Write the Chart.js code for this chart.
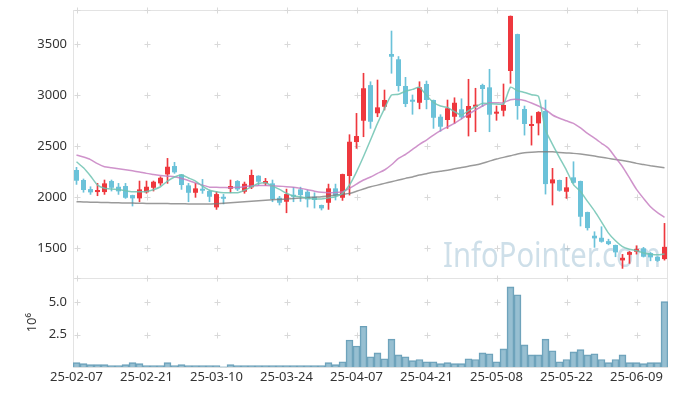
<!DOCTYPE html>
<html>
<head>
<meta charset="utf-8">
<script src="https://cdn.jsdelivr.net/npm/chart.js@4"></script>
<style>
  html, body { margin: 0; padding: 0; background: #fff; }
  canvas { display: block; }
</style>
</head>
<body>
<canvas id="stockChart" width="677" height="396"></canvas>
<script>
// trading days (yy-mm-dd)
const dates = [
  "25-02-07","25-02-10","25-02-11","25-02-12","25-02-13","25-02-14","25-02-17","25-02-18","25-02-19","25-02-20",
  "25-02-21","25-02-24","25-02-25","25-02-26","25-02-27","25-02-28","25-03-04","25-03-05","25-03-06","25-03-07",
  "25-03-10","25-03-11","25-03-12","25-03-13","25-03-14","25-03-17","25-03-18","25-03-19","25-03-20","25-03-21",
  "25-03-24","25-03-25","25-03-26","25-03-27","25-03-28","25-03-31","25-04-01","25-04-02","25-04-03","25-04-04",
  "25-04-07","25-04-08","25-04-09","25-04-10","25-04-11","25-04-14","25-04-15","25-04-16","25-04-17","25-04-18",
  "25-04-21","25-04-22","25-04-23","25-04-24","25-04-25","25-04-28","25-04-29","25-04-30","25-05-02","25-05-07",
  "25-05-08","25-05-09","25-05-12","25-05-13","25-05-14","25-05-15","25-05-16","25-05-19","25-05-20","25-05-21",
  "25-05-22","25-05-23","25-05-26","25-05-27","25-05-28","25-05-29","25-05-30","25-06-02","25-06-04","25-06-05",
  "25-06-09","25-06-10","25-06-11","25-06-12","25-06-13"
];

const opens = [
  2268,2170,2081,2052,2052,2160,2104,2111,2022,1990,
  2049,2094,2137,2225,2307,2225,2117,2045,2078,2062,
  1902,2006,2084,2160,2055,2098,2212,2137,2137,1996,
  1957,2016,2078,2055,2006,1925,1947,2088,1996,2209,
  2542,2751,3100,2824,2888,3405,3353,3091,2957,2927,
  3111,2954,2790,2758,2790,2863,2780,2888,3101,3078,
  2820,2849,3238,3600,2866,2699,2725,2846,2137,2170,
  2055,2196,2160,1856,1624,1604,1571,1533,1382,1437,
  1467,1500,1454,1418,1395
];
const highs = [
  2294,2180,2104,2137,2170,2170,2137,2137,2022,2160,
  2160,2160,2202,2382,2343,2225,2137,2137,2176,2072,
  2055,2029,2170,2165,2150,2268,2212,2186,2170,2010,
  2081,2098,2100,2070,2045,1925,2130,2130,2228,2614,
  2823,3216,3133,3150,3052,3630,3380,3176,3003,3133,
  3140,2954,2810,2954,2976,2966,3157,3069,3110,3255,
  2895,3111,3778,3600,2895,2797,2840,2954,2284,2170,
  2196,2349,2160,1856,1663,1712,1590,1533,1441,1470,
  1526,1510,1460,1418,1745
];
const lows = [
  2127,2050,2029,2016,2029,2062,2029,1990,1915,1957,
  2040,2062,2117,2137,2235,2078,1957,2000,2039,1957,
  1882,1935,2045,2065,2040,2085,2117,2117,1957,1925,
  1849,1957,1960,1905,1895,1876,1882,1974,1970,2022,
  2480,2594,2676,2790,2856,3216,3040,2888,2814,2867,
  2867,2676,2647,2676,2725,2770,2601,2643,2890,2643,
  2755,2797,3118,2765,2610,2512,2611,2032,1925,2060,
  1990,2137,1719,1679,1510,1560,1535,1418,1304,1353,
  1444,1415,1378,1372,1385
];
const closes = [
  2163,2072,2049,2072,2137,2094,2059,1996,1990,2078,
  2104,2153,2192,2300,2245,2121,2045,2088,2065,2006,
  2032,1986,2111,2078,2133,2219,2153,2160,1983,1947,
  2032,2006,2022,1980,1974,1892,2088,2016,2228,2545,
  2601,3069,2741,2882,2954,3378,3091,2915,2937,3078,
  2954,2780,2692,2873,2927,2784,2895,2908,3062,2810,
  2830,2905,3778,2895,2719,2716,2836,2130,2176,2065,
  2098,2143,1810,1699,1598,1565,1542,1461,1408,1464,
  1493,1418,1412,1378,1515
];

// moving averages as drawn
const ma5 = [
  2349,2290,2210,2120,2090,2082,2078,2065,2055,2055,
  2058,2075,2104,2160,2200,2219,2190,2160,2110,2070,
  2055,2045,2045,2045,2070,2104,2135,2143,2110,2078,
  2040,2013,2005,1990,1985,1983,1995,2006,2039,2121,
  2250,2400,2562,2725,2870,3003,3010,3040,3058,3078,
  2998,2930,2895,2882,2840,2807,2850,2888,2921,2918,
  2915,2915,3080,3045,3028,3006,2990,2660,2520,2390,
  2265,2125,2057,1961,1867,1760,1650,1574,1517,1491,
  1477,1455,1443,1437,1446
];
const ma20 = [
  2415,2395,2370,2330,2300,2290,2280,2270,2260,2248,
  2235,2225,2215,2208,2202,2185,2165,2140,2120,2100,
  2098,2096,2094,2098,2105,2114,2115,2115,2114,2110,
  2105,2098,2088,2075,2060,2049,2045,2048,2055,2088,
  2130,2170,2200,2235,2268,2320,2382,2420,2470,2520,
  2562,2610,2653,2690,2725,2770,2815,2856,2895,2927,
  2927,2927,2957,2960,2950,2925,2895,2860,2807,2775,
  2750,2725,2680,2627,2580,2530,2480,2390,2300,2190,
  2078,1990,1908,1850,1804
];
const ma60 = [
  1957,1955,1953,1951,1950,1948,1946,1945,1944,1942,
  1941,1940,1940,1939,1938,1937,1936,1935,1934,1934,
  1938,1942,1947,1952,1957,1962,1967,1972,1976,1980,
  1983,1988,1993,1998,2002,2006,2015,2022,2030,2039,
  2060,2082,2104,2120,2137,2153,2170,2186,2200,2219,
  2232,2245,2255,2265,2280,2292,2305,2317,2335,2355,
  2375,2392,2408,2425,2437,2443,2447,2447,2446,2440,
  2435,2431,2424,2415,2405,2393,2382,2372,2362,2350,
  2333,2322,2310,2300,2290
];

// volume in millions of shares
const volumes = [
  0.36,0.28,0.20,0.20,0.20,0.13,0.13,0.20,0.36,0.28,
  0.13,0.13,0.13,0.36,0.13,0.20,0.13,0.13,0.13,0.13,
  0.13,0.03,0.20,0.13,0.13,0.13,0.13,0.13,0.13,0.13,
  0.13,0.13,0.13,0.13,0.13,0.13,0.36,0.20,0.43,2.10,
  1.64,3.16,0.81,1.11,0.66,2.17,0.96,0.81,0.51,0.60,
  0.43,0.43,0.28,0.36,0.28,0.28,0.66,0.60,1.11,1.04,
  0.43,1.42,6.19,5.58,1.72,0.96,0.96,2.17,1.27,0.43,
  0.60,1.19,1.36,0.96,1.04,0.60,0.36,0.60,0.96,0.36,
  0.36,0.28,0.36,0.36,5.05
];

const priceTicks = [1500, 2000, 2500, 3000, 3500];
const volumeTicks = [2.5, 5.0];

const RED = "#ee383e";
const BLUE = "#6bc2d9";
const candleColor = c => closes[c.dataIndex] >= opens[c.dataIndex] ? RED : BLUE;

Chart.defaults.font.family = "'Noto Sans', sans-serif";
Chart.defaults.font.size = 13;
Chart.defaults.color = "#333";

// y axes: fixed width, no extra label padding above/below the plot
const fitYAxis = s => {
  s.width = 73;
  s.paddingTop = 0;
  s.paddingBottom = 0;
};

// frame, little grid crosses and the watermark
const chartDecor = {
  id: "chartDecor",
  beforeDatasetsDraw(chart) {
    const ctx = chart.ctx;
    const x = chart.scales.x;
    ctx.save();
    ctx.lineWidth = 1;
    ctx.strokeStyle = "#e3e3e3";
    ["y", "yVol"].forEach(id => {
      const s = chart.scales[id];
      ctx.strokeRect(Math.round(x.left) + 0.5, Math.round(s.top) + 0.5,
        Math.round(x.right - x.left) - 1, Math.round(s.bottom - s.top));
    });
    ctx.strokeStyle = "#d9d9d9";
    ["y", "yVol"].forEach(id => {
      const s = chart.scales[id];
      const ys = s.ticks.map(t => s.getPixelForValue(t.value));
      ys.push(s.top);
      ys.forEach(yv => {
        const py = Math.round(yv) + 0.5;
        dates.forEach((d, i) => {
          if (i % 10) return;
          const px = Math.round(x.getPixelForValue(i)) + 0.5;
          ctx.beginPath();
          ctx.moveTo(px - 3, py); ctx.lineTo(px + 3, py);
          ctx.moveTo(px, py - 3); ctx.lineTo(px, py + 3);
          ctx.stroke();
        });
      });
    });
    ctx.font = "34px 'Noto Sans'";
    ctx.fillStyle = "rgba(120,165,195,0.36)";
    ctx.textBaseline = "alphabetic";
    ctx.fillText("InfoPointer.com", 443, 267, 218);
    ctx.restore();
  }
};

new Chart(document.getElementById("stockChart"), {
  type: "bar",
  data: {
    labels: dates,
    datasets: [
      { type: "line", label: "MA5", data: ma5, yAxisID: "y", borderColor: "rgba(110,195,178,0.85)",
        borderWidth: 1.5, pointRadius: 0, tension: 0.2, order: 0 },
      { type: "line", label: "MA20", data: ma20, yAxisID: "y", borderColor: "rgba(195,120,190,0.8)",
        borderWidth: 1.5, pointRadius: 0, tension: 0.2, order: 0 },
      { type: "line", label: "MA60", data: ma60, yAxisID: "y", borderColor: "rgba(120,120,120,0.75)",
        borderWidth: 1.5, pointRadius: 0, tension: 0.2, order: 0 },
      { label: "body", data: opens.map((o, i) => [o, closes[i]]), yAxisID: "y",
        backgroundColor: candleColor, grouped: false, barPercentage: 0.72, categoryPercentage: 1,
        minBarLength: 2, order: 1 },
      { label: "wick", data: lows.map((l, i) => [l, highs[i]]), yAxisID: "y",
        backgroundColor: candleColor, grouped: false, barThickness: 1, order: 2 },
      { label: "volume", data: volumes, yAxisID: "yVol",
        backgroundColor: "rgba(125,175,198,0.8)", borderColor: "#6a9fb8", borderWidth: 1,
        grouped: false, barPercentage: 1, categoryPercentage: 1, order: 3 }
    ]
  },
  options: {
    responsive: false,
    devicePixelRatio: 1,
    animation: false,
    layout: { padding: { top: 10, right: 9, left: 0, bottom: 0 } },
    plugins: { legend: { display: false }, tooltip: { enabled: false } },
    scales: {
      x: {
        offset: true,
        grid: { display: false, drawTicks: false },
        border: { display: false },
        ticks: {
          autoSkip: false, maxRotation: 0, padding: 2,
          callback: (v, i) => (i % 10 === 0 ? dates[i] : "")
        },
        afterFit: s => { s.height = 28.7; }
      },
      yVol: {
        position: "left", stack: "main", stackWeight: 1,
        min: 0, max: 6.87,
        grid: { display: false, drawTicks: false },
        border: { display: false },
        ticks: { padding: 6, callback: v => v.toFixed(1) },
        afterBuildTicks: s => { s.ticks = volumeTicks.map(v => ({ value: v })); },
        title: { display: true, text: "10⁶", padding: { top: 24, bottom: 0 } },
        afterFit: fitYAxis
      },
      y: {
        position: "left", stack: "main", stackWeight: 3,
        min: 1210, max: 3836,
        grid: { display: false, drawTicks: false },
        border: { display: false },
        ticks: { padding: 6, callback: v => String(v) },
        afterBuildTicks: s => { s.ticks = priceTicks.map(v => ({ value: v })); },
        afterFit: fitYAxis
      }
    }
  },
  plugins: [chartDecor]
});
</script>
</body>
</html>
